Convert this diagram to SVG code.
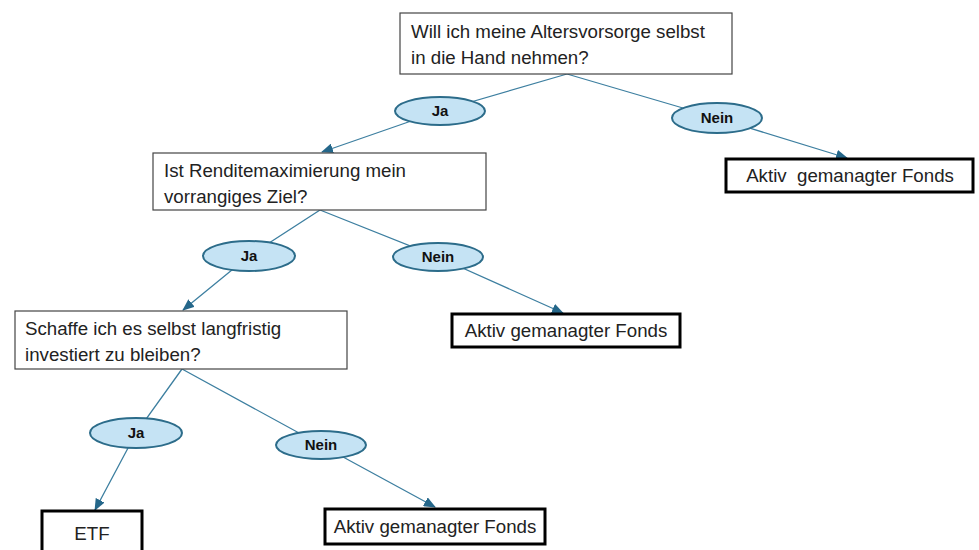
<svg xmlns="http://www.w3.org/2000/svg" width="979" height="550" viewBox="0 0 979 550">
<style>
.q{fill:#fff;stroke:#444;stroke-width:1.2}
.a{fill:#fff;stroke:#000;stroke-width:3}
.t{font-family:"Liberation Sans",Arial,sans-serif;font-size:18.7px;fill:#222}
.e{fill:#c5e3f4;stroke:#2c6c8a;stroke-width:2}
.l{font-family:"Liberation Sans Narrow","Arial Narrow","Liberation Sans",Arial,sans-serif;font-size:15px;font-weight:bold;fill:#111;text-anchor:middle}
.c{fill:none;stroke:#3d7fa0;stroke-width:1.3}
</style>
<defs>
<marker id="ar" markerUnits="userSpaceOnUse" markerWidth="12" markerHeight="10" viewBox="0 0 12 10" refX="11" refY="5" orient="auto">
<path d="M0,0 L12,5 L0,10 Z" fill="#25678a"/>
</marker>
</defs>
<g id="connectors">
<polyline class="c" points="567,74 440,111 322,152" marker-end="url(#ar)"/>
<polyline class="c" points="567,74 717,118 847,158" marker-end="url(#ar)"/>
<polyline class="c" points="320,210 249,256 183,310" marker-end="url(#ar)"/>
<polyline class="c" points="320,210 438,257 563,313" marker-end="url(#ar)"/>
<polyline class="c" points="182,369 136,433 95,510" marker-end="url(#ar)"/>
<polyline class="c" points="182,369 321,445 435,507" marker-end="url(#ar)"/>
</g>
<g id="q1">
<rect class="q" x="400" y="13" width="332" height="61"/>
<text class="t" x="411" y="38">Will ich meine Altersvorsorge selbst</text>
<text class="t" x="411" y="64">in die Hand nehmen?</text>
</g>
<g id="ja1"><ellipse class="e" cx="440" cy="111" rx="45" ry="14"/><text class="l" x="440" y="116">Ja</text></g>
<g id="nein1"><ellipse class="e" cx="717" cy="118" rx="45" ry="15"/><text class="l" x="717" y="123">Nein</text></g>
<g id="a1">
<rect class="a" x="726" y="159" width="247" height="33"/>
<text class="t" x="850" y="182" text-anchor="middle" xml:space="preserve">Aktiv  gemanagter Fonds</text>
</g>
<g id="q2">
<rect class="q" x="153" y="153" width="333" height="57"/>
<text class="t" x="164" y="177">Ist Renditemaximierung mein</text>
<text class="t" x="164" y="203">vorrangiges Ziel?</text>
</g>
<g id="ja2"><ellipse class="e" cx="249" cy="256" rx="46" ry="15"/><text class="l" x="249" y="261">Ja</text></g>
<g id="nein2"><ellipse class="e" cx="438" cy="257" rx="45" ry="14"/><text class="l" x="438" y="262">Nein</text></g>
<g id="a2">
<rect class="a" x="452" y="314" width="228" height="33"/>
<text class="t" x="566" y="337" text-anchor="middle">Aktiv gemanagter Fonds</text>
</g>
<g id="q3">
<rect class="q" x="15" y="311" width="332" height="58"/>
<text class="t" x="25" y="335">Schaffe ich es selbst langfristig</text>
<text class="t" x="25" y="361">investiert zu bleiben?</text>
</g>
<g id="ja3"><ellipse class="e" cx="136" cy="433" rx="46" ry="15"/><text class="l" x="136" y="438">Ja</text></g>
<g id="nein3"><ellipse class="e" cx="321" cy="445" rx="45" ry="14"/><text class="l" x="321" y="450">Nein</text></g>
<g id="etf">
<rect class="a" x="42" y="511" width="100" height="45"/>
<text class="t" x="92" y="540" text-anchor="middle">ETF</text>
</g>
<g id="a3">
<rect class="a" x="325" y="509" width="220" height="35"/>
<text class="t" x="435" y="533" text-anchor="middle">Aktiv gemanagter Fonds</text>
</g>
</svg>
